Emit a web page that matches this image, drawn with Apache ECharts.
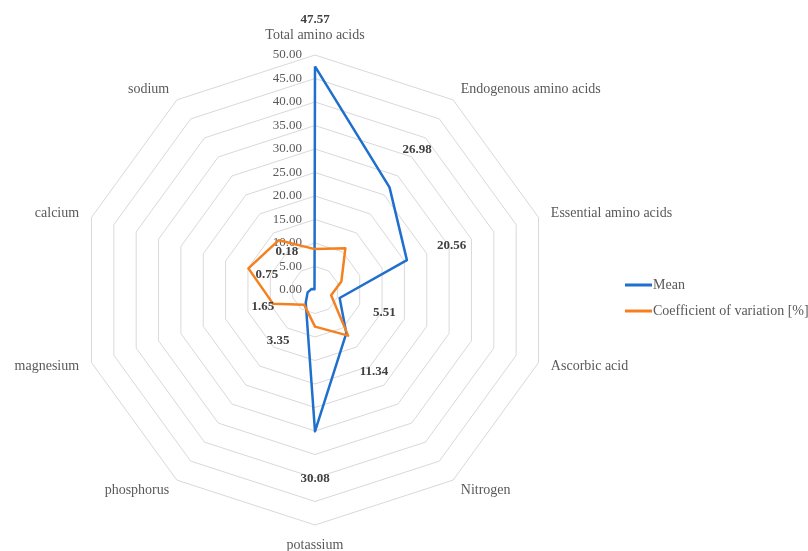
<!DOCTYPE html>
<html>
<head>
<meta charset="utf-8">
<script src="https://cdn.jsdelivr.net/npm/echarts@6/dist/echarts.min.js"></script>
<style>
  html, body { margin: 0; padding: 0; background: #ffffff; }
  #chart { width: 808px; height: 551px; }
</style>
</head>
<body>
<div id="chart"></div>
<script>
var categories = ['Total amino acids', 'Endogenous amino acids', 'Essential amino acids', 'Ascorbic acid', 'Nitrogen', 'potassium', 'phosphorus', 'magnesium', 'calcium', 'sodium'];
var meanValues = [47.57, 26.98, 20.56, 5.51, 11.34, 30.08, 3.35, 1.65, 0.75, 0.18];
var cvValues = [8.7, 11.0, 5.9, 3.6, 12.0, 7.8, 3.9, 9.4, 14.9, 13.1];
var seriesNames = ['Mean', 'Coefficient of variation [%]'];
var axisMin = 0;
var axisMax = 50;
var axisSplits = 10;

var FONT = 'Liberation Serif';
var LABEL_GAP = 47;
var meanTexts = meanValues.map(function (v) { return v.toFixed(2); });

// ECharts radar runs counter-clockwise; reorder so the categories run clockwise.
var order = [0];
for (var k = categories.length - 1; k >= 1; k--) { order.push(k); }
function reorder(arr) { return order.map(function (i) { return arr[i]; }); }

var chart = echarts.init(document.getElementById('chart'));
var option = {
  animation: false,
  backgroundColor: '#ffffff',
  legend: {
    orient: 'vertical',
    left: 620,
    top: 273,
    icon: 'rect',
    itemWidth: 27,
    itemHeight: 3,
    itemGap: 12,
    data: seriesNames,
    textStyle: { fontFamily: FONT, fontSize: 14, color: '#595959', padding: [0, 0, 0, -4] }
  },
  radar: {
    center: [315, 290],
    radius: 235,
    shape: 'polygon',
    startAngle: 90,
    splitNumber: axisSplits,
    nameGap: 13,
    axisName: { fontFamily: FONT, fontSize: 14, color: '#595959' },
    axisLine: { show: false },
    axisTick: { show: false },
    axisLabel: { show: false },
    splitArea: { show: false },
    splitLine: { lineStyle: { color: '#d9d9d9', width: 1 } },
    indicator: reorder(categories).map(function (c, i) {
      var ind = { name: c, min: axisMin, max: axisMax };
      if (i === 0) {
        ind.axisLabel = {
          show: true,
          fontFamily: FONT,
          fontSize: 13,
          color: '#595959',
          margin: 13,
          formatter: function (v) { return Number(v).toFixed(2); }
        };
      }
      return ind;
    })
  },
  series: [{
    type: 'radar',
    labelLayout: function (p) {
      var i = meanTexts.indexOf(String(p.text));
      if (i < 0) { return {}; }
      var a = i * 2 * Math.PI / categories.length;
      var cx = p.rect.x + p.rect.width / 2;
      var cy = p.rect.y + p.rect.height / 2;
      return {
        x: cx + LABEL_GAP * Math.sin(a),
        y: cy - LABEL_GAP * Math.cos(a),
        align: 'center',
        verticalAlign: 'middle'
      };
    },
    data: [
      {
        name: seriesNames[0],
        value: reorder(meanValues),
        symbol: 'circle',
        symbolSize: 1,
        itemStyle: { color: '#1F6FCC' },
        lineStyle: { color: '#1F6FCC', width: 2.5 },
        label: {
          show: true,
          fontFamily: FONT,
          fontSize: 13,
          fontWeight: 'bold',
          color: '#404040'
        }
      },
      {
        name: seriesNames[1],
        value: reorder(cvValues),
        symbol: 'none',
        itemStyle: { color: '#F5801F' },
        lineStyle: { color: '#F5801F', width: 2.5 },
        label: { show: false }
      }
    ]
  }]
};
chart.setOption(option);
</script>
</body>
</html>
